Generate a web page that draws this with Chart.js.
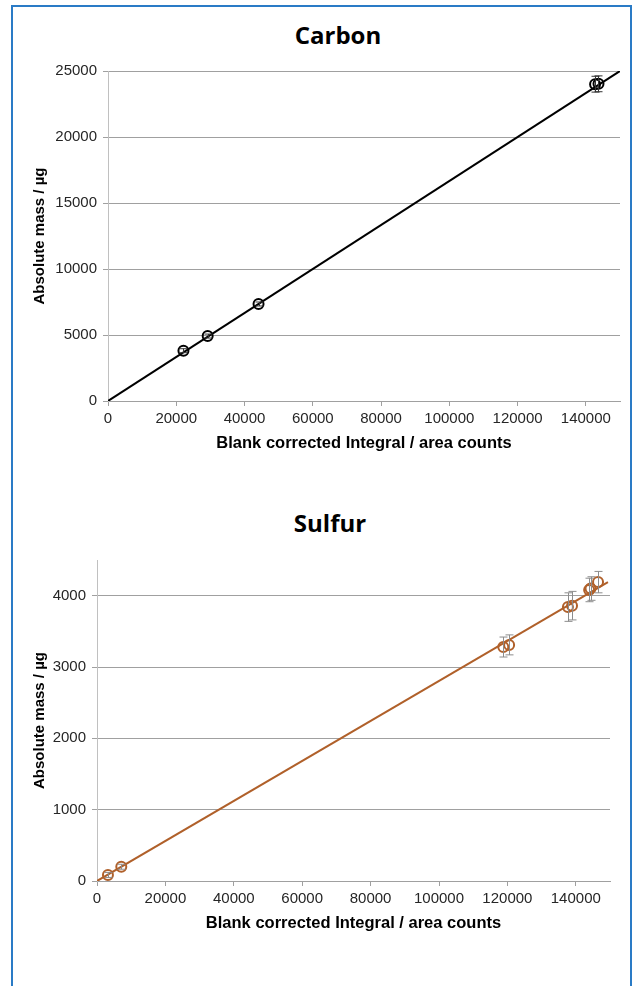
<!DOCTYPE html>
<html>
<head>
<meta charset="utf-8">
<script src="https://cdn.jsdelivr.net/npm/chart.js@4.4.1/dist/chart.umd.min.js"></script>
<style>
  html, body { margin:0; padding:0; background:#fff; }
  body { width:637px; height:986px; position:relative; overflow:hidden; }
  .frame { position:absolute; left:11px; top:5px; width:617px; height:1010px; border:2px solid #2a7bc6; }
  .title { position:absolute; font-family:'Open Sans', 'Noto Sans', sans-serif; font-weight:700; font-size:24px; color:#000; transform:translate(-50%,-50%); white-space:nowrap; }
  canvas { position:absolute; left:0; }
</style>
</head>
<body>
<div class="frame"></div>
<div class="title" style="left:338px; top:34px;">Carbon</div>
<div class="title" style="left:330px; top:522px;">Sulfur</div>
<canvas id="carbonChart" width="637" height="480" style="top:0"></canvas>
<canvas id="sulfurChart" width="637" height="480" style="top:480px"></canvas>
<script>
// Carbon calibration points
const carbonX = [22100, 29200, 44100, 142700, 143700];
const carbonY = [3810, 4920, 7350, 24000, 24030];
const carbonErr = [150, 150, 150, 600, 600];
const carbonTrendX = [0, 150000];
const carbonTrendY = [0, 25000];
const carbonYTicks = [0, 5000, 10000, 15000, 20000, 25000];

// Sulfur calibration points
const sulfurX = [3200, 7100, 118800, 120500, 137700, 138900, 143900, 144300, 146500];
const sulfurY = [85, 200, 3280, 3310, 3840, 3860, 4080, 4100, 4190];
const sulfurErr = [35, 35, 140, 140, 200, 200, 165, 165, 150];
const sulfurTrendX = [0, 149400];
const sulfurTrendY = [0, 4190];
const sulfurYTicks = [0, 1000, 2000, 3000, 4000];

// shared x ticks
const xTicks = [0, 20000, 40000, 60000, 80000, 100000, 120000, 140000];

const xTitle = 'Blank corrected Integral / area counts';
const yTitle = 'Absolute mass / µg';

const gridGray = '#a0a0a0';
const axisGray = '#c0c0c0';
const tickFont = {family:"'Liberation Sans', Arial, sans-serif", size:15};
const xTitleFont = {family:"'Liberation Sans', Arial, sans-serif", size:16.5, weight:'bold'};
const yTitleFont = {family:"'Liberation Sans', Arial, sans-serif", size:15, weight:'bold'};

function pts(xs, ys){ return xs.map((x,i)=>({x:x, y:ys[i]})); }

// vertical error bars, drawn through the scales
const errorBars = {
    id:'errorBars',
    afterDatasetsDraw(chart){
        const ctx = chart.ctx;
        const xs = chart.scales.x, ys = chart.scales.y;
        chart.data.datasets.forEach(ds=>{
            if (!ds.errY) return;
            ctx.save();
            ctx.strokeStyle = ds.errColor;
            ctx.lineWidth = 1;
            ds.data.forEach((p,i)=>{
                const px = Math.round(xs.getPixelForValue(p.x)) + 0.5;
                const top = ys.getPixelForValue(p.y + ds.errY[i]);
                const bot = ys.getPixelForValue(p.y - ds.errY[i]);
                ctx.beginPath();
                ctx.moveTo(px, top); ctx.lineTo(px, bot);
                ctx.moveTo(px-4, top); ctx.lineTo(px+4, top);
                ctx.moveTo(px-4, bot); ctx.lineTo(px+4, bot);
                ctx.stroke();
            });
            ctx.restore();
        });
    }
};

function makeChart(id, o){
    return new Chart(document.getElementById(id), {
        type:'scatter',
        data:{datasets:[
            {label:'data', data:pts(o.xs, o.ys), errY:o.err, errColor:o.errColor,
             pointStyle:'circle', pointRadius:5, pointHoverRadius:5, borderWidth:2,
             borderColor:o.color, backgroundColor:'rgba(0,0,0,0)', order:1},
            {label:'trend', type:'line', data:pts(o.tx, o.ty), showLine:true,
             borderColor:o.lineColor, borderWidth:2, pointRadius:0, fill:false, order:2}
        ]},
        options:{
            responsive:false, animation:false, devicePixelRatio:1,
            layout:{padding:o.pad},
            plugins:{legend:{display:false}, tooltip:{enabled:false}},
            scales:{
                x:{type:'linear', min:0, max:150000,
                   afterBuildTicks:s=>{ s.ticks = xTicks.map(v=>({value:v})); },
                   ticks:{font:tickFont, color:'#262626', padding:4, maxRotation:0, autoSkip:false,
                          callback:v=>String(v)},
                   grid:{drawOnChartArea:false, drawTicks:true, tickLength:5, color:gridGray},
                   border:{display:true, color:gridGray},
                   title:{display:true, text:xTitle, font:xTitleFont, color:'#000', padding:{top:4,bottom:3}},
                   afterFit:s=>{ s.height = 55; }},
                y:{type:'linear', min:0, max:o.ymax,
                   afterBuildTicks:s=>{ s.ticks = o.yticks.map(v=>({value:v})); },
                   ticks:{font:tickFont, color:'#262626', padding:6, autoSkip:false,
                          callback:v=>String(v)},
                   grid:{drawOnChartArea:true, drawTicks:true, tickLength:5, color:gridGray},
                   border:{display:true, color:axisGray},
                   title:{display:true, text:yTitle, font:yTitleFont, color:'#000', padding:{top:4,bottom:4}},
                   afterFit:s=>{ s.width = o.yw; }}
            }
        },
        plugins:[errorBars]
    });
}

makeChart('carbonChart', {
    xs:carbonX, ys:carbonY, err:carbonErr, tx:carbonTrendX, ty:carbonTrendY,
    color:'#000', lineColor:'#000', errColor:'#333',
    ymax:25000, yticks:carbonYTicks, yw:81,
    pad:{left:27, right:17, top:71, bottom:24}
});

makeChart('sulfurChart', {
    xs:sulfurX, ys:sulfurY, err:sulfurErr, tx:sulfurTrendX, ty:sulfurTrendY,
    color:'#b0602a', lineColor:'#b0602a', errColor:'#8c8c8c',
    ymax:4500, yticks:sulfurYTicks, yw:70,
    pad:{left:27, right:27, top:80, bottom:24}
});
</script>
</body>
</html>
